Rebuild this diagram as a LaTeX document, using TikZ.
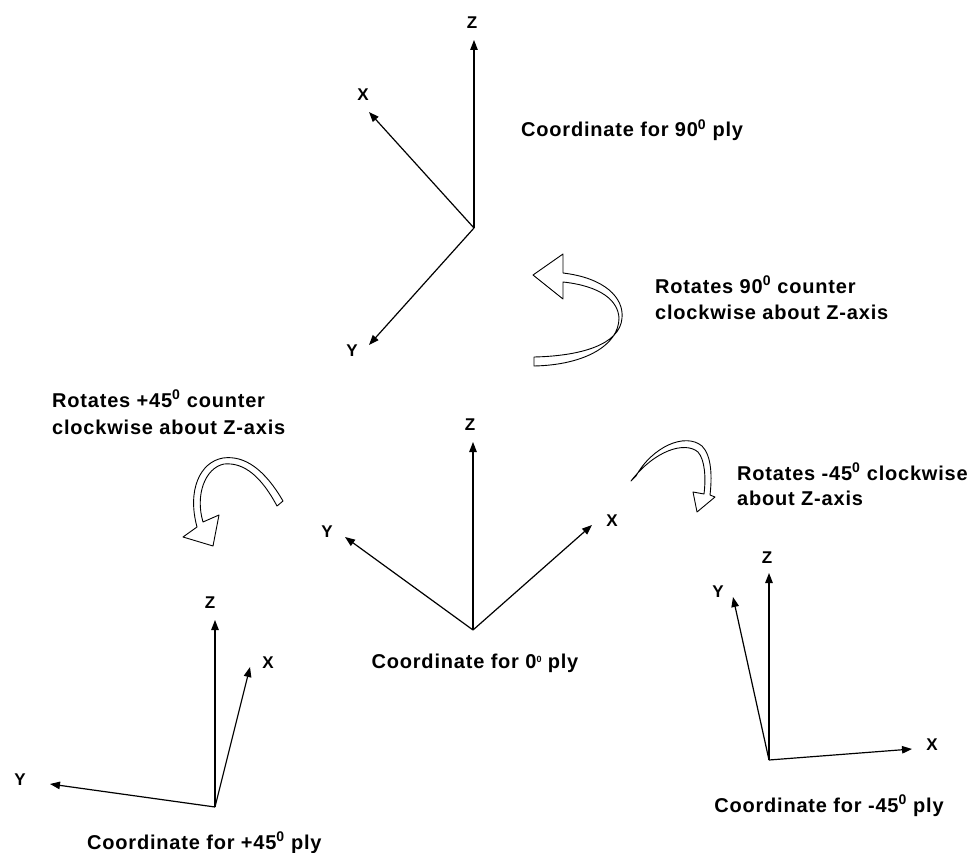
\documentclass[tikz,border=0pt]{standalone}
\usepackage{fontspec}
\setmainfont{Liberation Sans}
\newfontfamily\capfont[LetterSpace=4]{Liberation Sans}
\usetikzlibrary{arrows.meta}
\newcommand{\supz}{\textsuperscript{0}}
\begin{document}
\begin{tikzpicture}[x=1pt,y=-1pt,
  axis/.style={line width=1.2pt,-{Triangle[length=10pt,width=7.5pt]}},
  axlabel/.style={font=\bfseries\fontsize{17}{17}\selectfont, inner sep=0pt},
  caption/.style={font=\capfont\bfseries\fontsize{20}{24}\selectfont, inner sep=0pt},
  blockarrow/.style={draw=black, fill=white, line width=0.9pt, line join=round}]
\useasboundingbox[fill=white] (0,0) rectangle (974,853);

% ---- top axes (90 ply)
\coordinate (oA) at (474,228);
\coordinate (zA) at (474,40);
\coordinate (xA) at (369,112);
\coordinate (yA) at (369,345);
\draw[axis] (oA) -- (zA);
\draw[axis] (oA) -- (xA);
\draw[axis] (oA) -- (yA);
\node[axlabel] (lzA) at (472,23) {Z};
\node[axlabel] (lxA) at (363,95) {X};
\node[axlabel] (lyA) at (352,351) {Y};
\node[caption, anchor=base west] (capA) at (521,137) {Coordinate for 90\supz{} ply};

% ---- center axes (0 ply)
\coordinate (oB) at (473,630);
\coordinate (zB) at (473,442);
\coordinate (xB) at (592,525);
\coordinate (yB) at (345,537);
\draw[axis] (oB) -- (zB);
\draw[axis] (oB) -- (xB);
\draw[axis] (oB) -- (yB);
\node[axlabel] (lzB) at (470,425) {Z};
\node[axlabel] (lxB) at (612,521) {X};
\node[axlabel] (lyB) at (327,532) {Y};
\node[caption, anchor=base] (capB) at (475,668) {Coordinate for 0{\fontsize{9}{9}\selectfont\raisebox{6pt}{0}} ply};

% ---- bottom-left axes (+45 ply)
\coordinate (oC) at (215,807);
\coordinate (zC) at (215,620);
\coordinate (xC) at (250,667);
\coordinate (yC) at (50,784);
\draw[axis] (oC) -- (zC);
\draw[axis] (oC) -- (xC);
\draw[axis] (oC) -- (yC);
\node[axlabel] (lzC) at (210,603) {Z};
\node[axlabel] (lxC) at (268,663) {X};
\node[axlabel] (lyC) at (20,780) {Y};
\node[caption, anchor=base west] (capC) at (87,849) {Coordinate for +45\supz{} ply};

% ---- bottom-right axes (-45 ply)
\coordinate (oD) at (769,760);
\coordinate (zD) at (769,573);
\coordinate (xD) at (912,749);
\coordinate (yD) at (733,597);
\draw[axis] (oD) -- (zD);
\draw[axis] (oD) -- (xD);
\draw[axis] (oD) -- (yD);
\node[axlabel] (lzD) at (767,558) {Z};
\node[axlabel] (lxD) at (932,745) {X};
\node[axlabel] (lyD) at (718,592) {Y};
\node[caption, anchor=base] (capD) at (829,812) {Coordinate for -45\supz{} ply};

% ---- rotation texts
\node[caption, anchor=base west] (r90a) at (655,293) {Rotates 90\supz{} counter};
\node[caption, anchor=base west] (r90b) at (655,319) {clockwise about Z-axis};
\node[caption, anchor=base west] (rpa) at (52,407) {Rotates +45\supz{} counter};
\node[caption, anchor=base west] (rpb) at (52,434) {clockwise about Z-axis};
\node[caption, anchor=base west] (rma) at (737,480) {Rotates -45\supz{} clockwise};
\node[caption, anchor=base west] (rmb) at (737,505) {about Z-axis};

% ---- curved block arrows
% top (counter clockwise 90)
\draw[blockarrow] (563,273) .. controls (605,278) and (624,298) .. (622,318)
  .. controls (620,345) and (580,356) .. (534,357) -- (534,366)
  .. controls (585,365) and (619,345) .. (619,318)
  .. controls (618,300) and (600,286) .. (563,282)
  -- (563,299) -- (533,275) -- (563,254) -- cycle;
% left (+45)
\draw[blockarrow] (283,501) .. controls (265,470) and (245,455) .. (223,458)
  .. controls (200,462) and (187,490) .. (197,527)
  -- (183,537) -- (213,546) -- (219,515) -- (203,522)
  .. controls (195,495) and (205,468) .. (224,464)
  .. controls (245,462) and (262,478) .. (277,506) -- cycle;
% right (-45)
\draw[blockarrow] (631,481) -- (636,476) .. controls (652,447) and (685,432) .. (702,446)
  .. controls (712,456) and (712,478) .. (710,495)
  -- (715,497) -- (697,512) -- (693,492) -- (704,494)
  .. controls (706,478) and (705,460) .. (698,452)
  .. controls (685,441) and (655,450) .. cycle;
\end{tikzpicture}
\end{document}
